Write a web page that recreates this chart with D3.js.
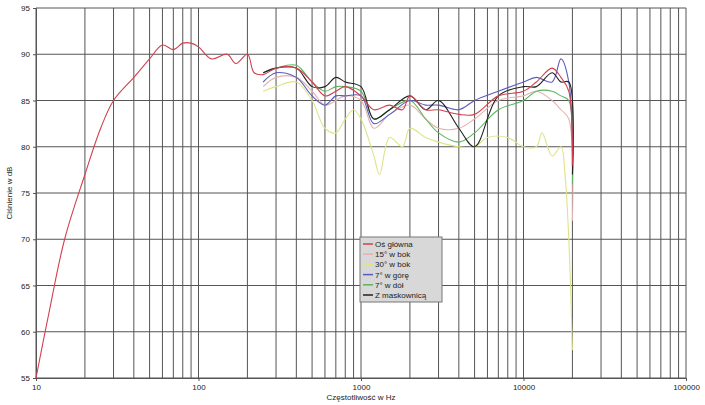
<!DOCTYPE html>
<html>
<head>
<meta charset="utf-8">
<script src="https://d3js.org/d3.v7.min.js"></script>
<style>
body { margin: 0; background: #fff; font-family: "Liberation Sans", Arial, sans-serif; }
</style>
</head>
<body>
<div id="chart"></div>
<script>
var yTicks = [55, 60, 65, 70, 75, 80, 85, 90, 95];
var xTicks = [10, 100, 1000, 10000, 100000];

var mainF = [10, 12, 15, 20, 25, 30, 40, 50, 60, 70, 80, 90, 100, 120, 150, 170, 200, 220, 250, 300, 400, 500, 600, 700, 800, 1000, 1200, 1500, 1800, 2000, 2500, 3000, 4000, 5000, 7000, 10000, 12000, 15000, 17000, 19000, 20000];
var mainV = [55, 62, 70, 77, 82, 85, 87.5, 89.5, 91, 90.5, 91.2, 91.2, 90.8, 89.5, 90, 89, 90, 88, 87.8, 88.5, 88.5, 87, 85.5, 86, 86.5, 85.5, 84, 84.5, 84, 85.5, 84, 84, 83.5, 83.5, 85.5, 86, 87, 88.5, 87.5, 86, 78];

var sideF = [250, 300, 400, 500, 600, 700, 800, 1000, 1200, 1500, 2000, 2500, 3000, 4000, 5000, 7000, 10000, 12000, 15000, 17000, 19000, 20000];
var deg15 = [86.5, 87.5, 87.5, 86, 84.5, 85, 85.5, 85, 82, 83.5, 84.5, 83, 82, 82, 83, 85, 85.5, 86, 85, 84, 83, 72];
var up7 = [87, 88, 87.5, 85.5, 84.5, 85.5, 85.5, 85.5, 82.5, 83.5, 85, 84.5, 84.5, 84, 85, 86, 87, 87.5, 87, 89.5, 87, 78];
var down7 = [88, 88.5, 88.8, 87, 86, 86.5, 86.5, 86, 83, 84, 85, 83, 81.5, 80.5, 81.5, 84, 85, 86, 86, 85.5, 85, 76];
var grill = [88, 88.5, 88.5, 86.5, 86.5, 87.5, 87, 86.5, 83, 84, 85.5, 84, 85, 82, 80, 85.5, 86.5, 86.5, 88, 87, 87, 77];

var deg30F = [250, 300, 400, 500, 600, 700, 800, 900, 1000, 1200, 1300, 1500, 1800, 2000, 2500, 3000, 4000, 5000, 6000, 8000, 10000, 12000, 13000, 15000, 17000, 18000, 19000, 20000];
var deg30 = [86, 86.5, 87, 85, 82, 81.5, 83, 84, 83, 79, 77, 81, 80, 82, 81, 80.5, 80, 80, 81, 81, 80, 80, 81.5, 79, 80, 77, 70, 58];

var series = [
  { name: "Oś  główna", f: mainF, v: mainV, color: "#d2404f" },
  { name: "15° w bok", f: sideF, v: deg15, color: "#e2b4b0" },
  { name: "30° w bok", f: deg30F, v: deg30, color: "#dde488" },
  { name: "7° w górę", f: sideF, v: up7, color: "#5a5ac0" },
  { name: "7° w dół", f: sideF, v: down7, color: "#5cb45c" },
  { name: "Z  maskownicą", f: sideF, v: grill, color: "#222" }
];

var W = 705, H = 405;
var x = d3.scaleLog().domain([10, 100000]).range([36, 686]);
var y = d3.scaleLinear().domain([55, 95]).range([378, 8]);

var svg = d3.select("#chart").append("svg").attr("width", W).attr("height", H);

var grid = [];
for (var d = 10; d < 100000; d *= 10) for (var k = 1; k <= 9; k++) grid.push(d * k);
grid.push(100000);

svg.append("g").selectAll("line").data(grid).enter().append("line")
  .attr("x1", function(d) { return x(d); }).attr("x2", function(d) { return x(d); })
  .attr("y1", y(95)).attr("y2", y(55))
  .attr("stroke", "#555").attr("stroke-width", 1);
svg.append("g").selectAll("line").data(yTicks).enter().append("line")
  .attr("x1", x(10)).attr("x2", x(100000))
  .attr("y1", function(d) { return y(d); }).attr("y2", function(d) { return y(d); })
  .attr("stroke", "#555").attr("stroke-width", 1);

var yAxis = svg.append("g").attr("transform", "translate(36,0)")
  .call(d3.axisLeft(y).tickValues(yTicks).tickSize(3).tickFormat(d3.format("d")));
var xAxis = svg.append("g").attr("transform", "translate(0,378)")
  .call(d3.axisBottom(x).tickValues(xTicks).tickSize(3).tickFormat(d3.format("d")));
[yAxis, xAxis].forEach(function(a) {
  a.selectAll("text").attr("font-size", 8).attr("fill", "#222");
  a.selectAll("line,path").attr("stroke", "#555");
});

var line = d3.line().curve(d3.curveCatmullRom)
  .x(function(d) { return x(d[0]); }).y(function(d) { return y(d[1]); });

var order = [2, 1, 4, 3, 5, 0];
order.forEach(function(i) {
  var s = series[i];
  svg.append("path").datum(d3.zip(s.f, s.v))
    .attr("d", line).attr("fill", "none")
    .attr("stroke", s.color).attr("stroke-width", 1.1);
});

svg.append("text").attr("x", 361).attr("y", 400).attr("text-anchor", "middle")
  .attr("font-size", 8).attr("fill", "#222").text("Częstotliwość  w  Hz");
svg.append("text").attr("transform", "translate(12,193) rotate(-90)").attr("text-anchor", "middle")
  .attr("font-size", 8).attr("fill", "#222").text("Ciśnienie w dB");

var lg = svg.append("g").attr("transform", "translate(360,237)");
lg.append("rect").attr("width", 82).attr("height", 65)
  .attr("fill", "#d8d8d8").attr("stroke", "#777");
series.forEach(function(s, i) {
  var yy = 7 + i * 10.2;
  lg.append("line").attr("x1", 3).attr("x2", 13).attr("y1", yy).attr("y2", yy)
    .attr("stroke", s.color).attr("stroke-width", 1.5);
  lg.append("text").attr("x", 15).attr("y", yy + 3).attr("font-size", 8)
    .attr("fill", "#222").text(s.name);
});
</script>
</body>
</html>
